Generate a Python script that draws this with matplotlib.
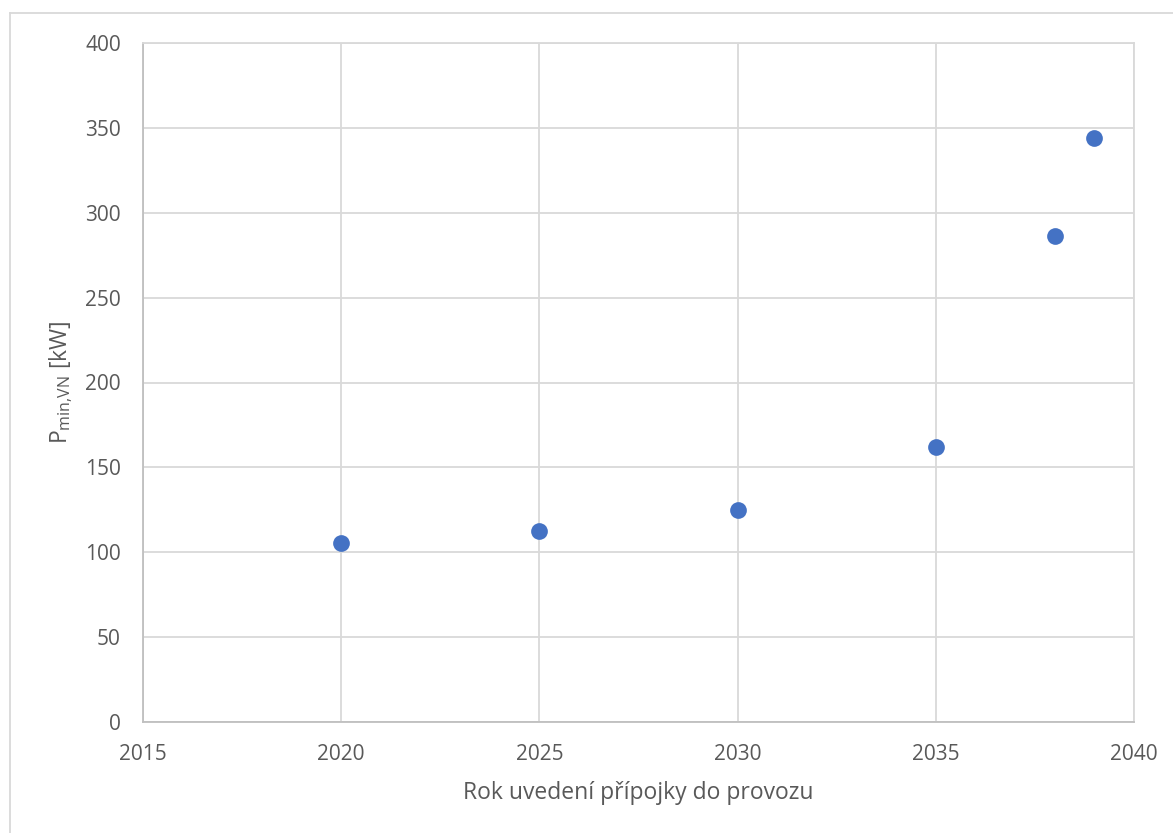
import matplotlib
matplotlib.use("Agg")
import matplotlib.pyplot as plt
from matplotlib.lines import Line2D

# Connection commissioning year vs. minimum HV power
years = [2020, 2025, 2030, 2035, 2038, 2039]
p_min_vn = [105.6, 112.3, 125.1, 162.2, 286.1, 344.3]

x_ticks = [2015, 2020, 2025, 2030, 2035, 2040]
y_ticks = [0, 50, 100, 150, 200, 250, 300, 350, 400]

plt.rcParams['font.family'] = ['Open Sans', 'DejaVu Sans']
text_color = '#595959'
grid_color = '#d9d9d9'
axis_color = '#bfbfbf'

fig = plt.figure(figsize=(11.73, 8.33), dpi=100)
ax = fig.add_axes([143 / 1173, 1 - 722 / 833, 991 / 1173, 679 / 833])

ax.scatter(years, p_min_vn, s=145, color='#4472C4', zorder=3, linewidths=0)

ax.set_xlim(2015, 2040)
ax.set_ylim(0, 400)
ax.set_xticks(x_ticks)
ax.set_yticks(y_ticks)
ax.tick_params(length=0, pad=16, labelsize=15, labelcolor=text_color)

ax.grid(True, color=grid_color, linewidth=1.3, zorder=0)
ax.set_axisbelow(True)
for side in ['top', 'right']:
    ax.spines[side].set_color(grid_color)
    ax.spines[side].set_linewidth(1.3)
for side in ['left', 'bottom']:
    ax.spines[side].set_color(axis_color)
    ax.spines[side].set_linewidth(1.3)

ax.set_xlabel('Rok uvedení přípojky do provozu', fontsize=16.5, color=text_color, va='center')
ax.xaxis.set_label_coords(0.5, -0.1046)
ax.set_ylabel(r'P$_{\mathregular{min{,}VN}}$ [kW]', fontsize=16.5, color=text_color, va='center')
ax.yaxis.set_label_coords(-0.083, 0.5)

# Chart area frame
fw, fh = 1173, 833
fig.add_artist(Line2D([10 / fw, 10 / fw], [0, 1 - 13 / fh], color=grid_color, linewidth=1.3,
                      transform=fig.transFigure))
fig.add_artist(Line2D([10 / fw, 1], [1 - 13 / fh, 1 - 13 / fh], color=grid_color, linewidth=1.3,
                      transform=fig.transFigure))

fig.savefig('out.png', dpi=100)
